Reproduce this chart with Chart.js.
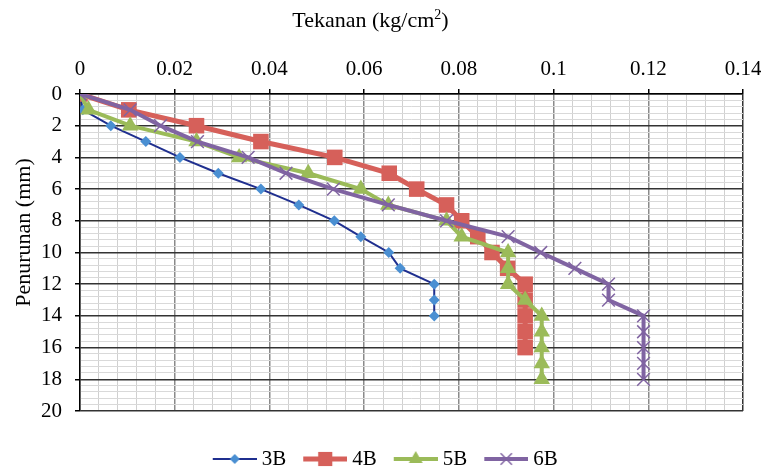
<!DOCTYPE html>
<html>
<head>
<meta charset="utf-8">
<script src="https://cdn.jsdelivr.net/npm/chart.js@4.4.1/dist/chart.umd.min.js"></script>
<style>
  html, body { margin: 0; padding: 0; background: #fff; }
  canvas { display: block; }
</style>
</head>
<body>
<canvas id="grafik" width="761" height="473"></canvas>
<script>
// Penurunan (mm) tiap benda uji
var penurunan3B = [0, 1, 2, 3, 4, 5, 6, 7, 8, 9, 10, 11, 12, 13, 14];
var penurunan4B = [0, 1, 2, 3, 4, 5, 6, 7, 8, 9, 10, 11, 12, 13, 14, 15, 16];
var penurunan5B = [0, 1, 2, 3, 4, 5, 6, 7, 8, 9, 10, 11, 12, 13, 14, 15, 16, 17, 18];
var penurunan6B = [0, 1, 2, 3, 4, 5, 6, 7, 8, 9, 10, 11, 12, 13, 14, 15, 16, 17, 18];

// Tekanan (kg/cm2) tiap benda uji
var tekanan3B = [0, 0.0006, 0.0065, 0.0139, 0.0211, 0.0292, 0.0382, 0.0462, 0.0537, 0.0593, 0.0652, 0.0676, 0.0748, 0.0748, 0.0748];
var tekanan4B = [0, 0.0103, 0.0246, 0.0382, 0.0538, 0.0653, 0.0711, 0.0774, 0.0806, 0.0840, 0.0870, 0.0903, 0.0940, 0.0940, 0.0940, 0.0940, 0.0940];
var tekanan5B = [0, 0.0018, 0.0106, 0.0246, 0.0336, 0.0482, 0.0593, 0.0651, 0.0774, 0.0806, 0.0904, 0.0904, 0.0904, 0.0940, 0.0975, 0.0975, 0.0975, 0.0975, 0.0975];
var tekanan6B = [0, 0.0106, 0.0170, 0.0248, 0.0355, 0.0435, 0.0535, 0.0651, 0.0774, 0.0904, 0.0973, 0.1045, 0.1116, 0.1116, 0.1190, 0.1190, 0.1190, 0.1190, 0.1190];

var labelSeri = ['3B', '4B', '5B', '6B'];
var tickX = [0, 0.02, 0.04, 0.06, 0.08, 0.1, 0.12, 0.14];
var tickY = [0, 2, 4, 6, 8, 10, 12, 14, 16, 18, 20];
var judulX = 'Tekanan (kg/cm';
var judulXPangkat = '2';
var judulY = 'Penurunan (mm)';

var FONT = '"Liberation Serif", "Times New Roman", serif';
Chart.defaults.font.family = FONT;
Chart.defaults.font.size = 21;
Chart.defaults.color = '#000';

var LEBAR_KOTAK = 48;   // pointStyleWidth legenda
var PANJANG_GARIS = 44; // panjang garis contoh di legenda

function gabung(xs, ys) {
    return xs.map(function (x, i) { return { x: x, y: ys[i] }; });
}

function isMajor(v, list) {
    return list.some(function (m) { return Math.abs(m - v) < 1e-9; });
}

// ikon legenda: garis dengan penanda di tengah, berakhir 5px sebelum teks
function ikonLegenda(warnaGaris, tebal, gaya, warnaTitik, radius, tebalTitik) {
    var ujung = LEBAR_KOTAK + 5.5;
    var setengah = ujung - LEBAR_KOTAK / 2;
    var c = document.createElement('canvas');
    c.width = Math.round(setengah * 2); c.height = 24;
    var g = c.getContext('2d');
    var x1 = c.width, x0 = x1 - PANJANG_GARIS;
    g.strokeStyle = warnaGaris;
    g.lineWidth = tebal;
    g.beginPath();
    g.moveTo(x0, 12); g.lineTo(x1, 12);
    g.stroke();
    g.fillStyle = warnaTitik;
    g.strokeStyle = warnaTitik;
    g.lineWidth = tebalTitik;
    Chart.helpers.drawPoint(g, { pointStyle: gaya, radius: radius, rotation: 0, borderWidth: tebalTitik }, (x0 + x1) / 2, 12);
    return c;
}

var seri = [
    { data: gabung(tekanan3B, penurunan3B), garis: '#1f2f8f', titik: '#4a8fd2', tebal: 2, gaya: 'rectRot', r: 5.5, bw: 0, order: 3 },
    { data: gabung(tekanan4B, penurunan4B), garis: '#d6605a', titik: '#d6605a', tebal: 5, gaya: 'rect', r: 11, bw: 0, order: 2 },
    { data: gabung(tekanan5B, penurunan5B), garis: '#9bbb59', titik: '#9bbb59', tebal: 4, gaya: 'triangle', r: 9.5, bw: 0, order: 1 },
    { data: gabung(tekanan6B, penurunan6B), garis: '#8064a2', titik: '#8064a2', tebal: 4, gaya: 'crossRot', r: 9, bw: 1.5, order: 0 }
];

var ikon = [
    ikonLegenda('#1f2f8f', 2, 'rectRot', '#4a8fd2', 5, 0),
    ikonLegenda('#d6605a', 5, 'rect', '#d6605a', 10, 0),
    ikonLegenda('#9bbb59', 4, 'triangle', '#9bbb59', 8, 0),
    ikonLegenda('#8064a2', 4, 'crossRot', '#8064a2', 8, 1.5)
];

var judulSumbu = {
    id: 'judulSumbu',
    afterDraw: function (chart) {
        var ctx = chart.ctx;
        ctx.save();
        ctx.fillStyle = '#000';
        ctx.textBaseline = 'alphabetic';
        ctx.font = '22px ' + FONT;
        var w1 = ctx.measureText(judulX).width;
        var w3 = ctx.measureText(')').width;
        ctx.font = '14px ' + FONT;
        var w2 = ctx.measureText(judulXPangkat).width;
        var x = chart.width / 2 - 10 - (w1 + w2 + w3) / 2;
        ctx.textAlign = 'left';
        ctx.font = '22px ' + FONT;
        ctx.fillText(judulX, x, 27);
        ctx.font = '14px ' + FONT;
        ctx.fillText(judulXPangkat, x + w1, 19);
        ctx.font = '22px ' + FONT;
        ctx.fillText(')', x + w1 + w2, 27);

        ctx.textAlign = 'center';
        ctx.textBaseline = 'middle';
        ctx.translate(24, chart.height / 2 - 4);
        ctx.rotate(-Math.PI / 2);
        ctx.fillText(judulY, 0, 0);
        ctx.restore();
    }
};

var ctxGrafik = document.getElementById('grafik');
var grafik = new Chart(ctxGrafik, {
    type: 'scatter',
    data: {
        datasets: seri.map(function (s, i) {
            return {
                label: labelSeri[i],
                data: s.data,
                showLine: true,
                tension: 0,
                order: s.order,
                borderColor: s.garis,
                borderWidth: s.tebal,
                backgroundColor: s.titik,
                pointStyle: s.gaya,
                pointRadius: s.r,
                pointHoverRadius: s.r,
                pointBackgroundColor: s.titik,
                pointBorderColor: s.titik,
                pointBorderWidth: s.bw
            };
        })
    },
    options: {
        responsive: false,
        animation: false,
        devicePixelRatio: 1,
        layout: { padding: { left: 0, right: 0, top: 0, bottom: -6.5 } },
        plugins: {
            tooltip: { enabled: false },
            legend: {
                position: 'bottom',
                title: { display: true, text: '', font: { size: 10, lineHeight: 1 }, padding: { top: 20, bottom: 0 } },
                labels: {
                    usePointStyle: true,
                    pointStyleWidth: LEBAR_KOTAK,
                    padding: 7.5,
                    font: { size: 21 },
                    generateLabels: function (chart) {
                        return chart.data.datasets.map(function (d, i) {
                            return {
                                text: d.label,
                                pointStyle: ikon[i],
                                fillStyle: d.borderColor,
                                strokeStyle: d.borderColor,
                                lineWidth: 0,
                                hidden: false,
                                datasetIndex: i
                            };
                        });
                    }
                }
            }
        },
        scales: {
            x: {
                type: 'linear',
                position: 'top',
                min: 0,
                max: 0.14,
                afterFit: function (scale) {
                    scale.height = 94;
                    scale.paddingRight = 18;
                },
                border: { color: '#000', width: 1.5 },
                grid: {
                    drawTicks: true,
                    tickLength: 5,
                    color: function (c) {
                        if (!c.tick) return '#d0d0d0';
                        if (Math.abs(c.tick.value - 0.14) < 1e-9) return '#333';
                        return isMajor(c.tick.value, tickX) ? '#8a8a8a' : '#d0d0d0';
                    },
                    lineWidth: function (c) {
                        return c.tick && isMajor(c.tick.value, tickX) ? 1.5 : 1;
                    },
                    tickColor: function (c) {
                        return c.tick && isMajor(c.tick.value, tickX) ? '#000' : 'rgba(0,0,0,0)';
                    }
                },
                ticks: {
                    stepSize: 0.004,
                    autoSkip: false,
                    maxRotation: 0,
                    padding: 7,
                    font: { size: 21 },
                    callback: function (v) {
                        return isMajor(v, tickX) ? String(Math.round(v * 100) / 100) : '';
                    }
                }
            },
            y: {
                type: 'linear',
                reverse: true,
                min: 0,
                max: 20,
                afterFit: function (scale) { scale.width = 80; },
                border: { color: '#000', width: 1.5 },
                grid: {
                    drawTicks: true,
                    tickLength: 5,
                    color: function (c) {
                        return c.tick && isMajor(c.tick.value, tickY) ? '#333' : '#d9d9d9';
                    },
                    lineWidth: function (c) {
                        return c.tick && isMajor(c.tick.value, tickY) ? 1.5 : 1;
                    },
                    tickColor: function (c) {
                        return c.tick && isMajor(c.tick.value, tickY) ? '#000' : 'rgba(0,0,0,0)';
                    }
                },
                ticks: {
                    stepSize: 0.4,
                    autoSkip: false,
                    padding: 13,
                    font: { size: 21 },
                    callback: function (v) {
                        return isMajor(v, tickY) ? String(Math.round(v)) : '';
                    }
                }
            }
        }
    },
    plugins: [judulSumbu]
});
</script>
</body>
</html>
